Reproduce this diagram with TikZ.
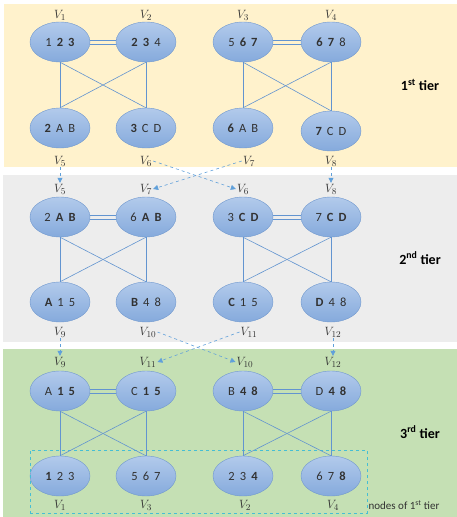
\documentclass[tikz,border=0pt]{standalone}
\usepackage{fontspec}
\setmainfont{Carlito}
\newfontfamily\cellfont{Carlito}[WordSpace=1.8]
\usetikzlibrary{shapes.geometric}
\usetikzlibrary{arrows.meta}
\definecolor{tierOne}{RGB}{255,242,204}
\definecolor{tierTwo}{RGB}{237,237,237}
\definecolor{tierThree}{RGB}{197,224,180}
\definecolor{nodeTop}{RGB}{178,202,235}
\definecolor{nodeBottom}{RGB}{133,170,220}
\definecolor{nodeBorder}{RGB}{112,152,206}
\definecolor{edgeColor}{RGB}{98,148,208}
\definecolor{arrowColor}{RGB}{96,160,218}
\definecolor{boxColor}{RGB}{70,190,212}
\definecolor{textColor}{RGB}{50,50,50}

\begin{document}
\begin{tikzpicture}[x=1pt,y=-1pt]

          \tikzstyle{cellNode} = [ellipse, draw=nodeBorder, top color=nodeTop, bottom color=nodeBottom,
            minimum width=60pt, minimum height=40pt, inner sep=0pt, text=textColor, font=\cellfont\fontsize{12.5}{12.5}\selectfont];
          \tikzstyle{nameNode} = [inner sep=1pt, text=textColor, font=\fontsize{12.5}{12.5}\selectfont];
          \tikzstyle{tierNode} = [text=black, font=\fontsize{14}{14}\selectfont\bfseries];

          \tikzstyle{normalEdge} = [edgeColor, line width=0.6pt];
          \tikzstyle{arrowEdge} = [arrowColor, dashed, line width=0.6pt, -{Triangle[length=5pt,width=5pt]}];

          \useasboundingbox (0,0) rectangle (457,517);
          \fill[tierOne] (4,4) rectangle (457,167);
          \fill[tierTwo] (3,175) rectangle (457,342);
          \fill[tierThree] (3,349) rectangle (457,517);

          % 1st tier
          \node[cellNode] (v1) at (60,42) {1 \textbf{2 3}};
          \node[cellNode] (v2) at (146,42) {\textbf{2 3} 4};
          \node[cellNode] (v3) at (243,42) {5 \textbf{6 7}};
          \node[cellNode] (v4) at (331,42) {\textbf{6 7} 8};
          \node[cellNode] (v5) at (60,128) {\textbf{2} A B};
          \node[cellNode] (v6) at (146,128) {\textbf{3} C D};
          \node[cellNode] (v7) at (243,128) {\textbf{6} A B};
          \node[cellNode] (v8) at (331,131) {\textbf{7} C D};

          \node[nameNode] (nV1) at (60,15) {$V_1$};
          \node[nameNode] (nV2) at (146,15) {$V_2$};
          \node[nameNode] (nV3) at (243,15) {$V_3$};
          \node[nameNode] (nV4) at (331,15) {$V_4$};
          \node[nameNode] (nV5a) at (60,161) {$V_5$};
          \node[nameNode] (nV6a) at (146,161) {$V_6$};
          \node[nameNode] (nV7a) at (249,161) {$V_7$};
          \node[nameNode] (nV8a) at (331,161) {$V_8$};
          \node[tierNode] (tier1) at (420,85) {1\textsuperscript{st} tier};

          % 2nd tier
          \node[cellNode] (v9) at (60,217) {2 \textbf{A B}};
          \node[cellNode] (v10) at (146,217) {6 \textbf{A B}};
          \node[cellNode] (v11) at (243,217) {3 \textbf{C D}};
          \node[cellNode] (v12) at (331,217) {7 \textbf{C D}};
          \node[cellNode] (v13) at (60,302) {\textbf{A} 1 5};
          \node[cellNode] (v14) at (146,302) {\textbf{B} 4 8};
          \node[cellNode] (v15) at (243,302) {\textbf{C} 1 5};
          \node[cellNode] (v16) at (331,302) {\textbf{D} 4 8};

          \node[nameNode] (nV5b) at (60,189) {$V_5$};
          \node[nameNode] (nV7b) at (146,189) {$V_7$};
          \node[nameNode] (nV6b) at (243,189) {$V_6$};
          \node[nameNode] (nV8b) at (331,189) {$V_8$};
          \node[nameNode] (nV9a) at (60,332) {$V_9$};
          \node[nameNode] (nV10a) at (148,332) {$V_{10}$};
          \node[nameNode] (nV11a) at (249,332) {$V_{11}$};
          \node[nameNode] (nV12a) at (333,332) {$V_{12}$};
          \node[tierNode] (tier2) at (420,258) {2\textsuperscript{nd} tier};

          % 3rd tier
          \node[cellNode] (v17) at (60,391) {A \textbf{1 5}};
          \node[cellNode] (v18) at (146,391) {C \textbf{1 5}};
          \node[cellNode] (v19) at (243,391) {B \textbf{4 8}};
          \node[cellNode] (v20) at (331,391) {D \textbf{4 8}};
          \node[cellNode] (v21) at (60,476) {\textbf{1} 2 3};
          \node[cellNode] (v22) at (146,476) {5 6 7};
          \node[cellNode] (v23) at (243,476) {2 3 \textbf{4}};
          \node[cellNode] (v24) at (331,476) {6 7 \textbf{8}};

          \node[nameNode] (nV9b) at (60,362) {$V_9$};
          \node[nameNode] (nV11b) at (148,362) {$V_{11}$};
          \node[nameNode] (nV10b) at (245,362) {$V_{10}$};
          \node[nameNode] (nV12b) at (333,362) {$V_{12}$};
          \node[nameNode] (nV1b) at (60,505) {$V_1$};
          \node[nameNode] (nV3b) at (146,505) {$V_3$};
          \node[nameNode] (nV2b) at (245,505) {$V_2$};
          \node[nameNode] (nV4b) at (333,505) {$V_4$};
          \node[tierNode] (tier3) at (420,432) {3\textsuperscript{rd} tier};

          \node[boxColor, dashed, draw, line width=0.8pt, minimum width=337pt, minimum height=63pt] (firstTier) at (198.5,481.5) {};
          \node[anchor=west, inner sep=1pt, text=textColor, font=\fontsize{11}{11}\selectfont] (firstTierText) at (firstTier.east |- 0,505) {nodes of 1\textsuperscript{st} tier};

          % edges inside each group
          \foreach \a/\b/\c/\d in {v1/v2/v5/v6, v3/v4/v7/v8, v9/v10/v13/v14, v11/v12/v15/v16,
                                   v17/v18/v21/v22, v19/v20/v23/v24} {
            \draw[normalEdge] ([yshift=-2.2pt]\a.east) -- ([yshift=-2.2pt]\b.west);
            \draw[normalEdge] ([yshift=2.2pt]\a.east) -- ([yshift=2.2pt]\b.west);
            \draw[normalEdge] (\a.south) -- (\c.north);
            \draw[normalEdge] (\a.south) -- (\d.north);
            \draw[normalEdge] (\b.south) -- (\c.north);
            \draw[normalEdge] (\b.south) -- (\d.north);
          }

          % links between tiers
          \draw[arrowEdge] (nV5a) -- (nV5b);
          \draw[arrowEdge] (nV6a.east) -- (nV6b.west);
          \draw[arrowEdge] (nV7a.west) -- (nV7b.east);
          \draw[arrowEdge] (nV8a) -- (nV8b);
          \draw[arrowEdge] (nV9a) -- (nV9b);
          \draw[arrowEdge] (nV10a.east) -- (nV10b.west);
          \draw[arrowEdge] (nV11a.west) -- (nV11b.east);
          \draw[arrowEdge] (nV12a) -- (nV12b);
        \end{tikzpicture}
\end{document}
